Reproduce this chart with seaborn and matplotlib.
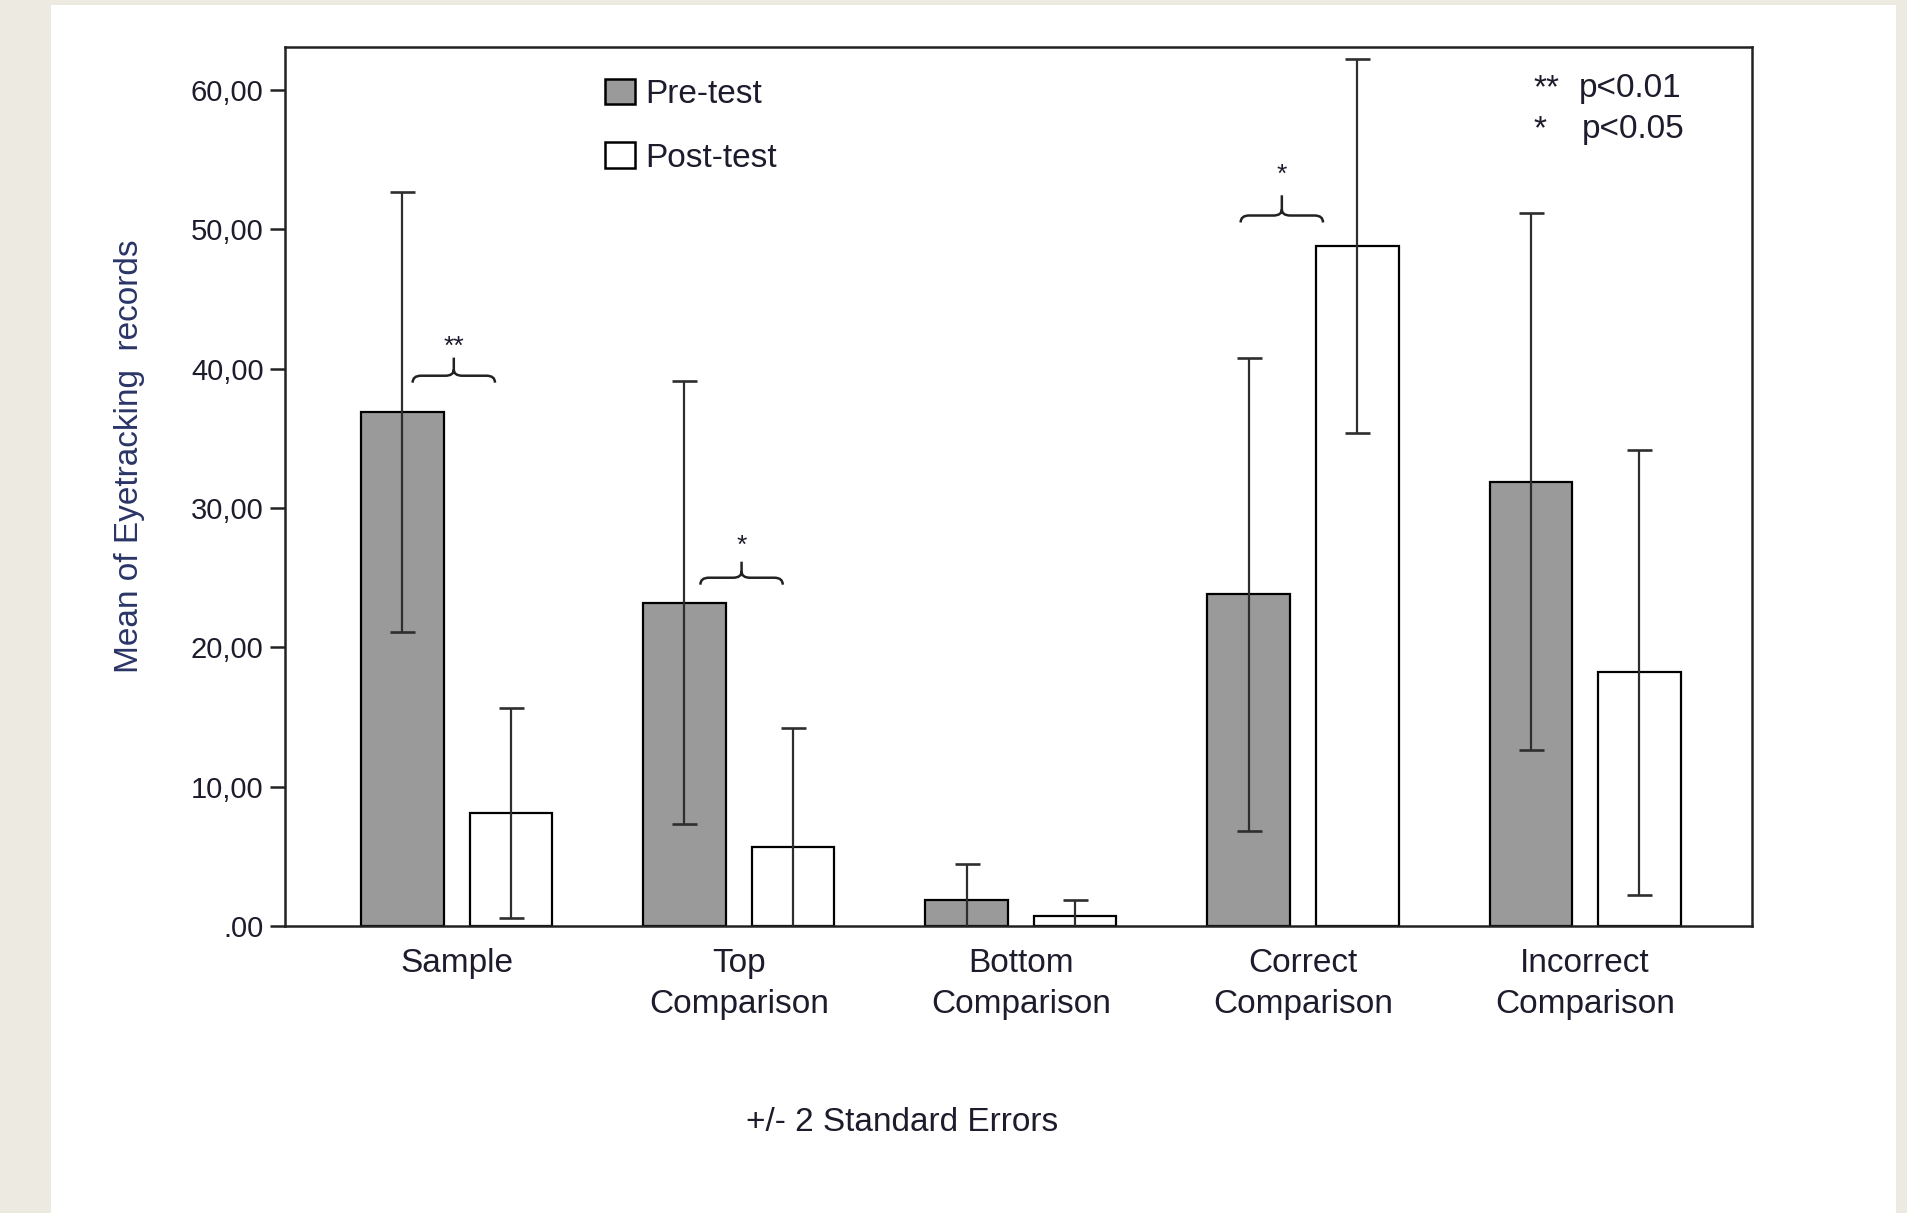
"""Eyetracking records before and after training, +/- 2 SE bars."""

import matplotlib

matplotlib.use("Agg")

import matplotlib.pyplot as plt
import pandas as pd
import seaborn as sns
from matplotlib.patches import PathPatch, Rectangle
from matplotlib.path import Path

categories = ["Sample", "Top\nComparison", "Bottom\nComparison",
              "Correct\nComparison", "Incorrect\nComparison"]
phases = ["Pre-test", "Post-test"]
pre_means = [36.9, 23.2, 1.85, 23.8, 31.9]
pre_2se = [15.8, 15.9, 2.63, 17.0, 19.25]
post_means = [8.1, 5.65, 0.72, 48.8, 18.2]
post_2se = [7.55, 8.55, 1.14, 13.4, 15.95]
ytick_values = [0, 10, 20, 30, 40, 50, 60]
ytick_labels = [".00", "10,00", "20,00", "30,00", "40,00", "50,00", "60,00"]
sig_categories = [0, 1, 3]
sig_stars = ["**", "*", "*"]
pvalue_stars = ["**", "*"]
pvalue_texts = ["p<0.01", "p<0.05"]

TEXT = "#1c1c2c"


def draw_brace(ax, xc, y0, half_w, tip, hook=0.5, r=0.03, curl=0.45):
    xl, xr = xc - half_w, xc + half_w
    verts = [
        (xl, y0 - hook), (xl, y0), (xl + r, y0), (xc - r, y0), (xc, y0), (xc, y0 + curl),
        (xc, y0 + tip),
        (xr, y0 - hook), (xr, y0), (xr - r, y0), (xc + r, y0), (xc, y0), (xc, y0 + curl),
    ]
    codes = [
        Path.MOVETO, Path.CURVE3, Path.CURVE3, Path.LINETO, Path.CURVE3, Path.CURVE3,
        Path.LINETO,
        Path.MOVETO, Path.CURVE3, Path.CURVE3, Path.LINETO, Path.CURVE3, Path.CURVE3,
    ]
    ax.add_patch(PathPatch(Path(verts, codes), fill=False, lw=1.8,
                           edgecolor="#222222", zorder=4))


def main() -> None:
    sns.set_theme(style="ticks")
    plt.rcParams["font.family"] = ["Liberation Sans", "DejaVu Sans"]

    df = pd.DataFrame({
        "category": categories * 2,
        "phase": [phases[0]] * len(categories) + [phases[1]] * len(categories),
        "mean": pre_means + post_means,
    })

    fig = plt.figure(figsize=(19.07, 12.13), dpi=100, facecolor="#edebe1")
    fig.patches.append(Rectangle((0.0267, 0.0), 0.9675, 0.9959, transform=fig.transFigure,
                                 facecolor="white", edgecolor="none", zorder=-10))
    ax = fig.add_axes([0.1492, 0.2366, 0.7693, 0.7247])
    ax.set_zorder(1)
    ax.set_facecolor("white")

    sns.barplot(data=df, x="category", y="mean", hue="phase",
                palette={"Pre-test": "#9a9a9a", "Post-test": "white"},
                saturation=1, width=0.77, gap=0.24, errorbar=None,
                edgecolor="black", linewidth=1.6, ax=ax)

    for container, errs in zip(ax.containers, [pre_2se, post_2se]):
        xs = [b.get_x() + b.get_width() / 2 for b in container]
        ys = [b.get_height() for b in container]
        ax.errorbar(xs, ys, yerr=errs, fmt="none", ecolor="#2e2e2e",
                    elinewidth=1.6, capsize=9, capthick=1.9, zorder=3)

    ax.set_xlim(-0.61, 4.59)
    ax.set_ylim(0, 63.1)
    ax.set_yticks(ytick_values)
    ax.set_yticklabels(ytick_labels)
    ax.tick_params(axis="y", length=11, width=1.8, pad=4, labelsize=21,
                   color="#222222", labelcolor=TEXT)
    ax.tick_params(axis="x", length=0, pad=16, labelsize=24, labelcolor=TEXT)
    for lab in ax.get_xticklabels():
        lab.set_linespacing(1.42)
    for spine in ax.spines.values():
        spine.set_visible(True)
        spine.set_color("#222222")
        spine.set_linewidth(1.8)

    ax.set_xlabel("")
    ax.set_ylabel("Mean of Eyetracking  records", fontsize=24, color="#2a3566")
    ax.yaxis.set_label_coords(-0.095, 0.535)

    handles, labels = ax.get_legend_handles_labels()
    leg = ax.legend(handles, labels, loc="upper left", bbox_to_anchor=(0.2185, 0.964),
                    frameon=False, fontsize=24, handlelength=0.9, handleheight=0.8,
                    handletextpad=0.3, labelspacing=0.97, borderpad=0, borderaxespad=0)
    for patch in leg.get_patches():
        patch.set_edgecolor("black")
        patch.set_linewidth(1.8)
    for t in leg.get_texts():
        t.set_color(TEXT)

    # significance braces (layout)
    shifts = [-0.01, 0.01, -0.075]
    bases = [39.5, 25.0, 51.0]
    tips = [1.3, 1.15, 1.45]
    star_y = [41.1, 26.8, 53.4]
    for cat, stars, dx, y0, tip, sy in zip(sig_categories, sig_stars, shifts, bases, tips, star_y):
        xc = cat + dx
        draw_brace(ax, xc, y0, 0.146, tip)
        ax.text(xc, sy, stars, ha="center", va="baseline", fontsize=19, color=TEXT)

    for row, (stars, txt) in enumerate(zip(pvalue_stars, pvalue_texts)):
        yb = 0.943 - row * 0.0465
        ax.text(0.8514, yb, stars, transform=ax.transAxes, ha="left", va="baseline",
                fontsize=24, color=TEXT)
        ax.text(0.882 + row * 0.002, yb, txt, transform=ax.transAxes, ha="left",
                va="baseline", fontsize=24, color=TEXT)

    fig.text(0.473, 0.0745, "+/- 2 Standard Errors", ha="center", va="center",
             fontsize=24, color=TEXT)

    fig.savefig("out.png", dpi=100, facecolor=fig.get_facecolor())
    plt.close(fig)


if __name__ == "__main__":
    main()
